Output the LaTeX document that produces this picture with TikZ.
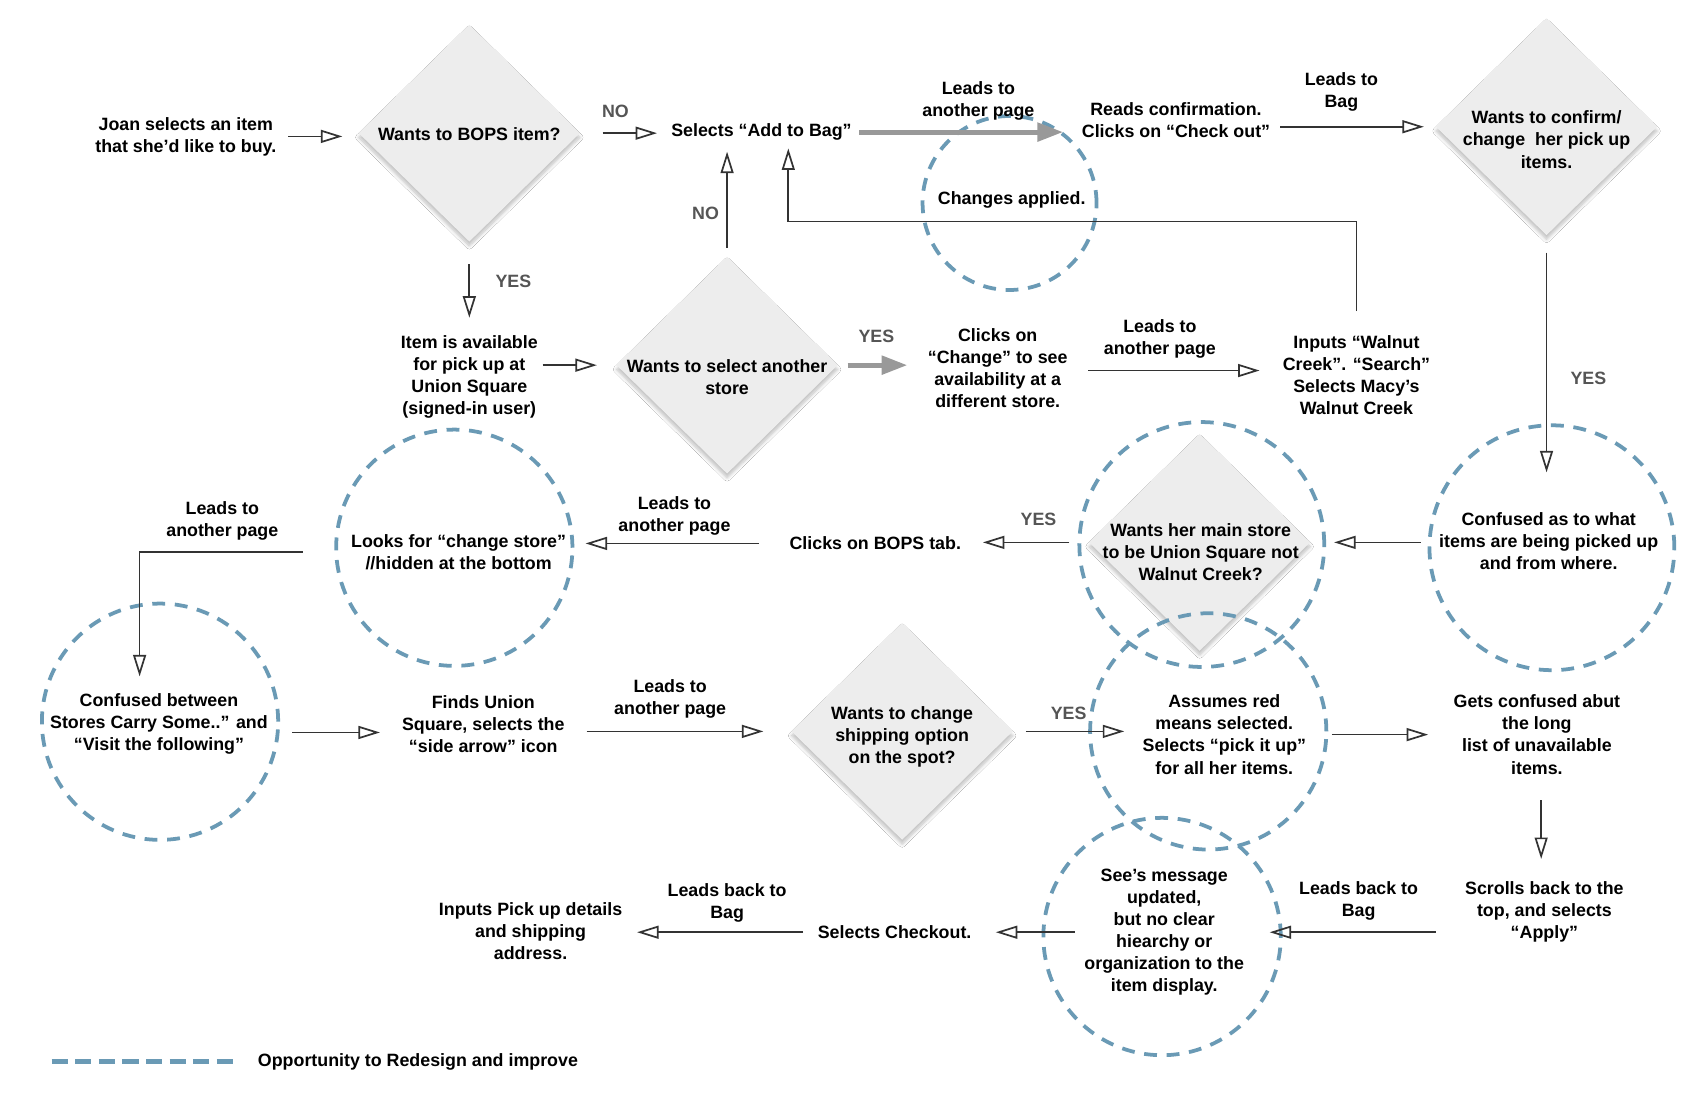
\documentclass[tikz,border=0pt]{standalone}
\usepackage{fontspec}
\setmainfont{Liberation Sans}
\usetikzlibrary{arrows.meta,shapes.geometric,shadows.blur,calc}
\definecolor{dashblue}{RGB}{106,154,181}
\definecolor{diafill}{RGB}{237,237,237}
\definecolor{lnk}{RGB}{51,51,51}
\definecolor{lblgray}{RGB}{85,85,85}
\definecolor{thickgray}{RGB}{153,153,153}
\begin{document}
\begin{tikzpicture}[x=1pt,y=-1pt,
  every node/.style={font=\fontsize{16.6}{20.5}\selectfont\bfseries},
  txt/.style={align=center, inner sep=0pt, minimum height=20pt},
  lbl/.style={text=lblgray, inner sep=0pt},
  diam/.style={diamond, fill=diafill, minimum width=206pt, minimum height=202pt, inner sep=0pt,
    blur shadow={shadow xshift=0pt, shadow yshift=-4pt, shadow opacity=25, shadow blur steps=8, shadow blur radius=3pt}},
  opp/.style={draw=dashblue, line width=3.5pt, dash pattern=on 12pt off 9pt, circle, inner sep=0pt},
  arr/.style={draw=lnk, line width=1.6pt, -{Triangle[open, length=20pt, width=12pt]}},
  garr/.style={draw=thickgray, line width=4.5pt, -{Triangle[length=24pt, width=17pt]}},
]
\useasboundingbox[fill=white] (0,0) rectangle (1568,1020.5);

% diamonds
\node[diam] (d1) at (437,124) {};
\node[diam] (d2) at (677,340) {};
\node[diam] (d3) at (1440,118) {};
\node[diam] (d4) at (1117,505) {};
\node[diam] (d5) at (840,681) {};

% opportunity circles
\node[opp, minimum size=162pt] (oA) at (940,189) {};
\node[opp, minimum size=220pt] (oB) at (423,510) {};
\node[opp, minimum size=220pt] (oC) at (149,672) {};
\node[opp, minimum size=228pt] (oD) at (1119,507) {};
\node[opp, minimum size=228pt] (oE) at (1445,510) {};
\node[opp, minimum size=220pt] (oF) at (1125,681) {};
\node[opp, minimum size=221pt] (oG) at (1082,872) {};

% diamond texts
\node[txt] (d1t) at (437,125) {Wants to BOPS item?};
\node[txt] (d2t) at (677,351) {Wants to select another\\store};
\node[txt] (d3t) at (1440,130) {Wants to confirm/\\change\ \ her pick up\\items.};
\node[txt] (d4t) at (1118,514) {Wants her main store\\to be Union Square not\\Walnut Creek?};
\node[txt] (d5t) at (840,686) {Wants to change\\shipping option\\on the spot?};

% step texts
\node[txt, minimum width=190pt] (joan) at (173,127) {Joan selects an item\\that she’d like to buy.};
\node[txt, minimum width=194pt, minimum height=36pt] (add) at (709,123) {Selects “Add to Bag”};
\node[txt, minimum width=190pt] (reads) at (1095,112) {Reads confirmation.\\Clicks on “Check out”};
\node[txt, minimum width=136pt, minimum height=110pt] (avail) at (437,351) {Item is available\\for pick up at\\Union Square\\(signed-in user)};
\node[txt, minimum width=168pt] (clicks) at (929,343) {Clicks on\\“Change” to see\\availability at a\\different store.};
\node[txt, minimum width=150pt, minimum height=118pt] (walnut) at (1263,349) {Inputs “Walnut\\Creek”. “Search”\\Selects Macy’s\\Walnut Creek};
\node[txt, minimum width=238pt, minimum height=128pt] (confA) at (1442,504) {Confused as to what\\items are being picked up\\and from where.};
\node[txt, minimum width=200pt] (bops) at (815,506) {Clicks on BOPS tab.};
\node[txt, minimum width=236pt] (looks) at (427,514) {Looks for “change store”\\//hidden at the bottom};
\node[txt, minimum width=248pt, minimum height=88pt] (confB) at (148,674) {Confused between\\Stores Carry Some..” and\\“Visit the following”};
\node[txt, minimum width=192pt] (finds) at (450,674) {Finds Union\\Square, selects the\\“side arrow” icon};
\node[txt, minimum width=186pt] (assumes) at (1140,684) {Assumes red\\means selected.\\Selects “pick it up”\\for all her items.};
\node[txt, minimum width=202pt, minimum height=122pt] (gets) at (1431,684) {Gets confused abut\\the long\\list of unavailable\\items.};
\node[txt, minimum width=202pt, minimum height=98pt] (scrolls) at (1438,849) {Scrolls back to the\\top, and selects\\“Apply”};
\node[txt, minimum width=196pt] (sees) at (1084,868) {See’s message\\updated,\\but no clear\\hiearchy or\\organization to the\\item display.};
\node[txt, minimum width=188pt] (selchk) at (833,868) {Selects Checkout.};
\node[txt, minimum width=198pt] (inputs) at (494,867) {Inputs Pick up details\\and shipping\\address.};
\node[txt] (chg) at (942,186) {Changes applied.};

% connectors
\draw[arr, shorten >=15pt] (joan.east) -- (joan.east -| d1.west);
\draw[arr, shorten <=21pt] (d1.east) -- (d1.east -| add.west);
\draw[garr, shorten <=-6pt, shorten >=10pt] (add.east) -- (add.east -| reads.west);
\draw[arr, shorten <=2pt, shorten >=11pt] (reads.east |- d3.west) -- (d3.west);
\draw[arr, shorten <=21pt] (d1.south) -- (avail.north);
\draw[arr, shorten >=18pt] (avail.east |- d2.west) -- (d2.west);
\draw[arr, shorten <=8pt] (d2.north) -- (d2.north |- add.south);
\coordinate (ret) at ($(add.south)+(25,-3)$);
\draw[arr] (walnut.north) |- ($(ret)+(0,68)$) -- (ret);
\draw[garr, shorten <=9pt] (d2.east) -- (d2.east -| clicks.west);
\draw[arr, shorten >=15pt] ($(clicks.east)+(0,2)$) -- ($(clicks.east -| walnut.west)+(0,2)$);
\draw[arr, shorten <=16pt] (d3.south) -- (d3.south |- confA.north);
\draw[arr, shorten >=22pt] (confA.west |- d4.east) -- (d4.east);
\draw[arr, shorten <=18pt] (d4.west) -- (d4.west -| bops.east);
\draw[arr, shorten <=8pt] (bops.west) -- (bops.west -| looks.east);
\draw[arr, shorten <=27pt] (looks.west) -| ($(confB.north)+(-18,0)$);
\draw[arr] ($(confB.east)+(0,8)$) -- ($(finds.west)+(0,8)$);
\draw[arr, shorten >=26pt] (finds.east |- d5.west) -- (d5.west);
\draw[arr, shorten <=12pt] (d5.east) -- (d5.east -| assumes.west);
\draw[arr, shorten <=7pt] (assumes.east) -- (gets.west);
\draw[arr] ($(gets.south)+(4,0)$) -- ($(scrolls.north)+(-3,0)$);
\draw[arr] (scrolls.west |- sees.east) -- (sees.east);
\draw[arr, shorten <=-15pt] (sees.west) -- (sees.west -| selchk.east);
\draw[arr, shorten <=-9pt] (selchk.west) -- (selchk.west -| inputs.east);

% connector labels
\node[lbl] (no1) at (573,104) {NO};
\node[txt] (lt1) at (911,94) {Leads to\\another page};
\node[txt] (lt2) at (1249,86) {Leads to\\Bag};
\node[lbl] (yes1) at (478,262) {YES};
\node[lbl] (no2) at (657,199) {NO};
\node[lbl] (yes2) at (816,313) {YES};
\node[txt] (lt3) at (1080,316) {Leads to\\another page};
\node[lbl] (yes3) at (1479,352) {YES};
\node[lbl] (yes4) at (967,484) {YES};
\node[txt] (lt4) at (628,480) {Leads to\\another page};
\node[txt] (lt5) at (207,485) {Leads to\\another page};
\node[txt] (lt6) at (624,651) {Leads to\\another page};
\node[lbl] (yes5) at (995,664) {YES};
\node[txt] (lb1) at (1265,839) {Leads back to\\Bag};
\node[txt] (lb2) at (677,841) {Leads back to\\Bag};

% legend
\coordinate (lg1) at (48,988);
\coordinate (lg2) at (220,988);
\draw[dashblue, line width=4.7pt, dash pattern=on 15pt off 7pt] (lg1) -- (lg2);
\node[txt, anchor=west] (legend) at (240,989) {Opportunity to Redesign and improve};
\end{tikzpicture}
\end{document}
